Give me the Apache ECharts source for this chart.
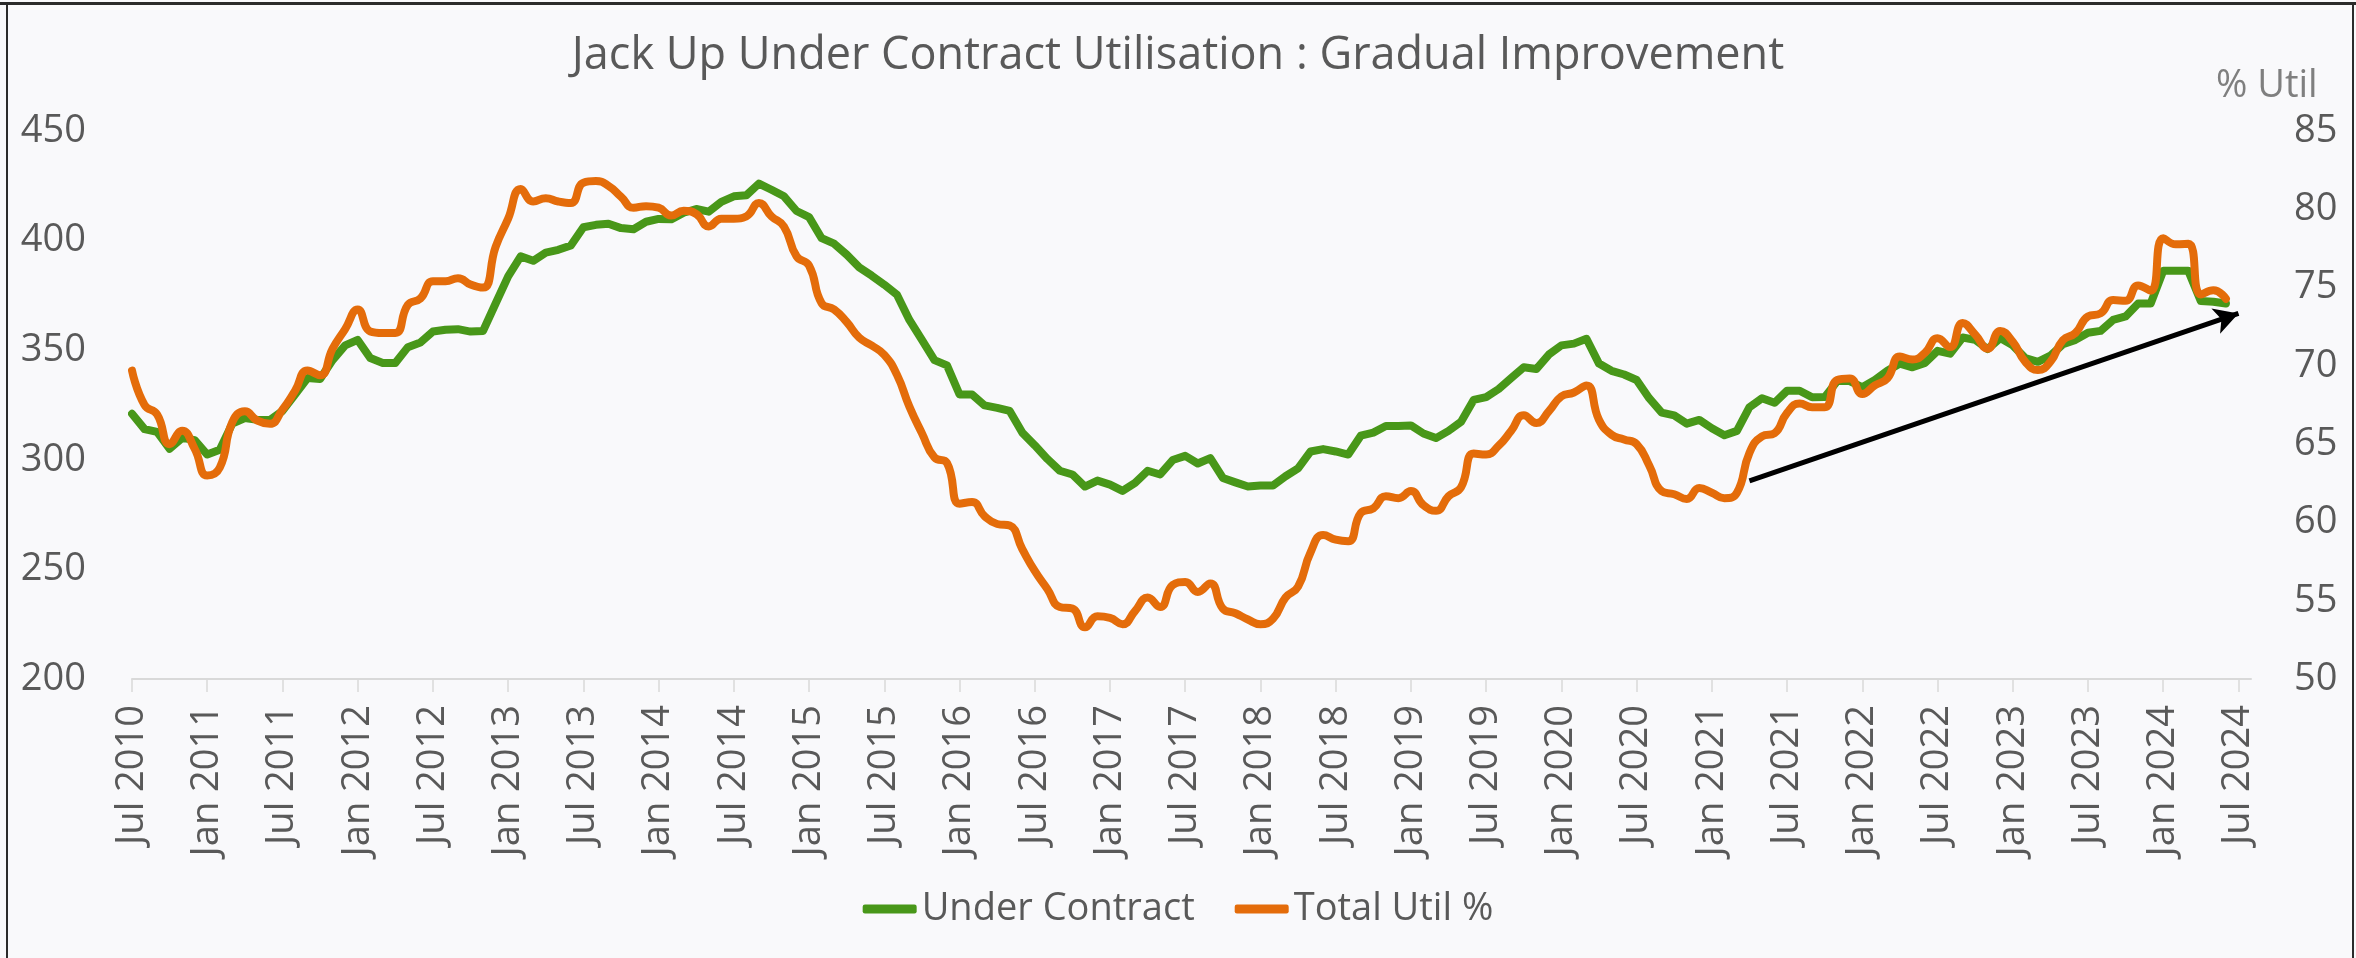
<!DOCTYPE html>
<html>
<head>
<meta charset="utf-8">
<script src="https://cdn.jsdelivr.net/npm/echarts@6/dist/echarts.min.js"></script>
<style>
  html, body { margin: 0; padding: 0; background: #f9f9fb; }
  #chart { position: absolute; left: 0; top: 0; width: 2356px; height: 958px; }
  .edge { position: absolute; background: #2b2b2b; }
</style>
</head>
<body>
<div id="chart"></div>
<div class="edge" style="left:0;top:2px;width:2356px;height:3px"></div>
<div class="edge" style="left:6px;top:2px;width:2px;height:956px"></div>
<div class="edge" style="left:2352px;top:2px;width:2px;height:956px"></div>
<script>
// months Jul 2010 .. Aug 2024 (axis runs a little past the last point)
const monthNames = ['Jan', 'Feb', 'Mar', 'Apr', 'May', 'Jun', 'Jul', 'Aug', 'Sep', 'Oct', 'Nov', 'Dec']
const months = []
for (let i = 0; i < 170; i++) {
  months.push(monthNames[(6 + i) % 12] + ' ' + (2010 + Math.floor((6 + i) / 12)))
}

// jack ups under contract (left axis)
const underContract = [
  321, 314, 312.7, 305, 310, 309, 302.4, 304.6, 316.5, 319, 318.2, 318.2,
  322.3, 329.8, 337.3, 336.9, 345.5, 352.2, 354.7, 346.4, 344.2, 344.2, 351.4, 353.5,
  358.5, 359.3, 359.6, 358.5, 358.8, 371.3, 383.7, 392.8, 390.8, 394.5, 395.8, 397.8,
  406.1, 407.2, 407.7, 405.7, 405.2, 408.6, 409.9, 409.7, 412.7, 414.4, 413.2, 417.7,
  420.2, 420.7, 426.0, 423.2, 420.2, 413.5, 410.7, 401.1, 398.6, 393.6, 387.8, 384.0,
  379.9, 375.4, 363.8, 354.7, 345.5, 343.1, 329.8, 329.8, 324.8, 323.7, 322.3, 312.4,
  306.6, 300.4, 295.0, 293.3, 287.8, 290.5, 288.7, 285.8, 289.5, 295.0, 293.3, 299.9,
  301.8, 298.3, 300.8, 291.7, 289.7, 287.8, 288.3, 288.3, 292.5, 296.1, 303.8, 304.9,
  303.8, 302.4, 311.0, 312.4, 315.4, 315.4, 315.7, 312.0, 309.9, 313.2, 317.4, 327.3,
  328.6, 332.3, 337.3, 342.2, 341.4, 348.0, 352.2, 353.0, 355.2, 343.9, 340.6, 338.9,
  336.4, 328.1, 321.5, 320.3, 316.5, 318.2, 314.4, 311.2, 313.2, 324.0, 328.1, 326.0,
  331.5, 331.5, 328.5, 328.6, 335.9, 335.9, 333.1, 336.4, 340.6, 343.9, 342.2, 344.2,
  349.7, 348.4, 355.8, 354.7, 350.5, 355.5, 352.2, 346.4, 344.7, 347.5, 352.7, 354.7,
  358.0, 358.8, 363.8, 365.4, 371.3, 371.3, 386.2, 386.2, 386.2, 372.4, 372.1, 371.3
]

// total utilisation % (right axis)
const totalUtil = [
  69.7, 67.5, 66.9, 65.0, 65.85, 64.7, 63.0, 63.5, 66.4, 67.1, 66.5, 66.3,
  67.2, 68.4, 69.7, 69.4, 71.1, 72.35, 73.6, 72.2, 72.1, 72.1, 73.9, 74.3,
  75.4, 75.4, 75.6, 75.2, 75.0, 77.6, 79.4, 81.3, 80.5, 80.7, 80.5, 80.4,
  81.7, 81.8, 81.5, 80.8, 80.1, 80.2, 80.1, 79.6, 79.9, 79.7, 78.9, 79.4,
  79.4, 79.55, 80.4, 79.55, 78.9, 77.0, 76.4, 74.0, 73.6, 72.8, 71.8, 71.3,
  70.7, 69.45, 67.4, 65.7, 64.15, 63.8, 61.2, 61.3, 60.4, 59.9, 59.8, 58.3,
  56.9, 55.75, 54.6, 54.5, 53.3, 54.0, 53.9, 53.5, 54.35, 55.2, 54.6, 56.0,
  56.2, 55.56, 56.1, 54.5, 54.2, 53.8, 53.5, 53.85, 55.2, 55.9, 58.1, 59.2,
  58.9, 58.8, 60.6, 60.9, 61.67, 61.55, 62.0, 61.1, 60.74, 61.67, 62.25, 64.4,
  64.34, 64.9, 65.85, 66.85, 66.35, 67.1, 68.05, 68.3, 68.75, 66.55, 65.6, 65.3,
  65.0, 63.65, 62.0, 61.8, 61.5, 62.2, 61.9, 61.55, 61.9, 64.45, 65.5, 65.7,
  67.0, 67.6, 67.36, 67.36, 69.1, 69.2, 68.2, 68.75, 69.2, 70.6, 70.4, 70.84,
  71.77, 71.2, 72.74, 72.0, 71.1, 72.23, 71.54, 70.26, 69.73, 70.26, 71.65, 72.1,
  73.16, 73.35, 74.2, 74.16, 75.14, 74.8, 78.15, 77.76, 77.8, 74.56, 74.83, 74.28
]

// trend arrow, [month index, % util]
const trendStart = [128.8, 62.65]
const trendEnd = [168.4, 73.35]

const font = 'Open Sans'
const textColor = '#595959'
const everySixth = (index) => index % 6 === 0

const chart = echarts.init(document.getElementById('chart'))

chart.setOption({
  animation: false,
  backgroundColor: '#f9f9fb',
  textStyle: { fontFamily: font },
  title: {
    text: 'Jack Up Under Contract Utilisation : Gradual Improvement',
    left: 'center',
    top: 29,
    textStyle: { fontFamily: font, fontSize: 45, fontWeight: 'normal', color: textColor }
  },
  legend: {
    data: ['Under Contract', 'Total Util %'],
    left: 'center',
    top: 885,
    icon: 'roundRect',
    itemWidth: 54,
    itemHeight: 9,
    itemGap: 40,
    textStyle: { fontFamily: font, fontSize: 38, color: textColor }
  },
  grid: {
    left: 132,
    right: 105,
    top: 131,
    bottom: 279
  },
  xAxis: {
    type: 'category',
    data: months,
    boundaryGap: false,
    axisLine: { lineStyle: { color: '#d9d9d9', width: 2 } },
    axisTick: { interval: everySixth, length: 13, lineStyle: { color: '#d9d9d9', width: 1.5 } },
    axisLabel: {
      interval: everySixth,
      rotate: 90,
      margin: 26,
      fontFamily: font,
      fontSize: 38,
      color: textColor
    },
    splitLine: { show: false }
  },
  yAxis: [{
    type: 'value',
    min: 200,
    max: 450,
    interval: 50,
    axisLine: { show: false },
    axisTick: { show: false },
    splitLine: { show: false },
    axisLabel: { margin: 46, fontFamily: font, fontSize: 38, color: textColor }
  }, {
    type: 'value',
    min: 50,
    max: 85,
    interval: 5,
    name: '% Util',
    nameLocation: 'end',
    nameGap: 26,
    nameTextStyle: { fontFamily: font, fontSize: 38, color: '#7f7f7f', align: 'left', padding: [0, 0, 0, -35] },
    axisLine: { show: false },
    axisTick: { show: false },
    splitLine: { show: false },
    axisLabel: { margin: 43, fontFamily: font, fontSize: 38, color: textColor }
  }],
  series: [{
    name: 'Under Contract',
    type: 'line',
    yAxisIndex: 0,
    data: underContract,
    showSymbol: false,
    color: '#489719',
    lineStyle: { width: 8, color: '#489719', cap: 'round', join: 'round' }
  }, {
    name: 'Total Util %',
    type: 'line',
    yAxisIndex: 1,
    data: totalUtil,
    smooth: 0.5,
    showSymbol: false,
    color: '#e46c0a',
    lineStyle: { width: 8, color: '#e46c0a', cap: 'round', join: 'round' },
    markLine: {
      silent: true,
      animation: false,
      symbol: ['none', 'arrow'],
      symbolSize: [20, 24],
      label: { show: false },
      lineStyle: { color: '#000000', width: 5, type: 'solid' },
      data: [[
        { coord: trendStart },
        { coord: trendEnd }
      ]]
    }
  }]
})
</script>
</body>
</html>
